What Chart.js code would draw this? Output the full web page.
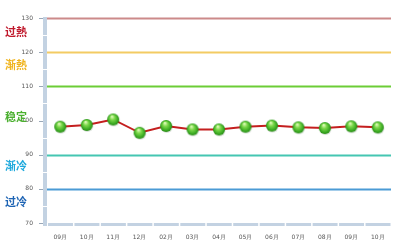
<!DOCTYPE html>
<html><head><meta charset="utf-8">
<script src="https://cdn.jsdelivr.net/npm/chart.js@4/dist/chart.umd.min.js"></script>
<style>html,body{margin:0;padding:0;background:#fff;}#wrap{width:402px;height:248px;}</style>
</head><body><div id="wrap"><canvas id="c" width="402" height="248"></canvas></div>
<script>
const categories = ['09月','10月','11月','12月','02月','03月','04月','05月','06月','07月','08月','09月','10月'];
const values = [98.2,98.7,100.3,96.4,98.4,97.4,97.4,98.2,98.5,98.0,97.8,98.3,98.0];
const thresholds = [130,120,110,90,80];
const thresholdColors = ['#cc8a8a','#f3cb63','#6ccd36','#45c6b2','#4b9bd5'];
const zoneLabels = ['过熱','渐熱','稳定','渐冷','过冷'];
const zoneValues = [126,116.4,101.2,86.6,76.3];
const zoneColors = ['#c0192c','#f0b41e','#4cb030','#1ca8dc','#1e64b4'];
const yTicks = [70,80,90,100,110,120,130];

function ball(r){
  const s = r*2+4, cv = document.createElement('canvas');
  cv.width = s; cv.height = s;
  const g = cv.getContext('2d');
  const cx = s/2, cy = s/2;
  g.fillStyle='rgba(0,60,0,0.15)';
  g.beginPath(); g.arc(cx+0.6,cy+1,r,0,Math.PI*2); g.fill();
  const gr = g.createRadialGradient(cx-r*0.2,cy-r*0.5,r*0.1,cx,cy,r);
  gr.addColorStop(0,'#d8f8b0'); gr.addColorStop(0.35,'#7cd84a'); gr.addColorStop(0.8,'#3aaa22'); gr.addColorStop(1,'#2a8a16');
  g.fillStyle=gr; g.beginPath(); g.arc(cx,cy,r,0,Math.PI*2); g.fill();
  return cv;
}
const pt = ball(6);

const deco = {
  id:'deco',
  beforeDatasetsDraw(chart){
    const {ctx, chartArea:a, scales:{x,y}} = chart;
    ctx.save();
    thresholds.forEach((t,i)=>{
      const py = Math.round(y.getPixelForValue(t))+0.5;
      ctx.strokeStyle = thresholdColors[i]; ctx.lineWidth = 2;
      ctx.beginPath(); ctx.moveTo(a.left, py); ctx.lineTo(a.right, py); ctx.stroke();
    });
    ctx.fillStyle = '#c3d2e2';
    ctx.fillRect(a.left-4, y.getPixelForValue(130)-1, 4, y.getPixelForValue(70)-y.getPixelForValue(130)+4);
    ctx.strokeStyle = '#ffffff'; ctx.lineWidth = 1;
    for (let v=75; v<130; v+=10){
      const py = Math.round(y.getPixelForValue(v))+0.5;
      ctx.beginPath(); ctx.moveTo(a.left-4, py); ctx.lineTo(a.left, py); ctx.stroke();
    }
    ctx.strokeStyle = '#9aa8b8';
    yTicks.forEach(v=>{
      const py = Math.round(y.getPixelForValue(v))+0.5;
      ctx.beginPath(); ctx.moveTo(a.left-8, py); ctx.lineTo(a.left-4, py); ctx.stroke();
    });
    const by = y.getPixelForValue(70);
    const w = (a.right-a.left)/categories.length;
    ctx.fillStyle = '#c3d2e2';
    for (let i=0;i<categories.length;i++){
      ctx.fillRect(a.left + i*w + 1, by, w-1.5, 3);
    }
    ctx.font = 'bold 11px "Noto Sans CJK SC"';
    ctx.textBaseline = 'middle'; ctx.textAlign = 'left';
    zoneLabels.forEach((l,i)=>{
      ctx.fillStyle = zoneColors[i];
      ctx.fillText(l, 5, y.getPixelForValue(zoneValues[i]));
    });
    ctx.restore();
  }
};

new Chart(document.getElementById('c'), {
  type:'line',
  data:{ labels: categories, datasets:[{
    data: values, borderColor:'#c41f1f', borderWidth:2, tension:0,
    pointStyle: pt, pointRadius:6, pointHoverRadius:6, clip:false
  }]},
  options:{
    responsive:false, animation:false, devicePixelRatio:1,
    layout:{padding:{left:0,right:11,top:18,bottom:0}},
    plugins:{legend:{display:false}, tooltip:{enabled:false}},
    scales:{
      x:{ offset:true, grid:{display:false, drawTicks:false, offset:true}, border:{display:false},
          ticks:{font:{size:6, family:'DejaVu Sans'}, color:'#555', padding:11, maxRotation:0, autoSkip:false},
          afterFit(s){ s.height = 25; } },
      y:{ min:70, max:130, grid:{display:false, drawTicks:false}, border:{display:false},
          ticks:{stepSize:10, font:{size:6, family:'DejaVu Sans'}, color:'#555', padding:14},
          afterFit(s){ s.width = 47; } }
    }
  },
  plugins:[deco]
});
</script>
</body></html>
